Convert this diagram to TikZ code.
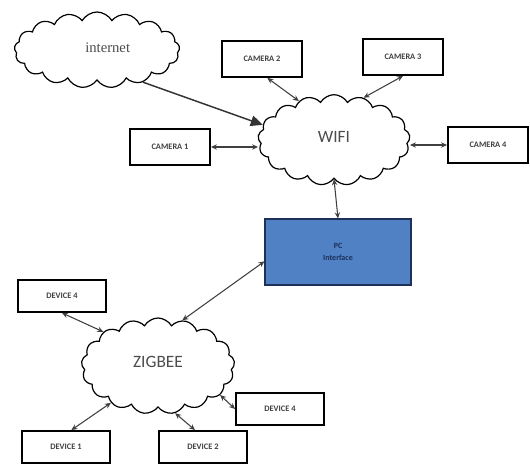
\documentclass[tikz,border=0pt]{standalone}
\usepackage{fontspec}
\setmainfont{Carlito}
\newfontfamily\inetfont{Liberation Serif}
\usetikzlibrary{shapes.symbols,arrows.meta}

\definecolor{pcblue}{RGB}{79,129,196}
\definecolor{pcnavy}{RGB}{28,48,88}

\begin{document}
\begin{tikzpicture}[x=0.75pt,y=-0.75pt,
    box/.style={draw, line width=1.4pt, minimum width=60pt, minimum height=27pt,
        inner sep=1pt, font=\fontsize{6.3}{7}\selectfont\bfseries, text=black!75},
    devbox/.style={box, minimum width=66pt, minimum height=24pt},
    net/.style={draw, cloud, cloud puffs=17, cloud puff arc=120, cloud ignores aspect,
        inner sep=0pt, line width=0.9pt, font=\fontsize{13}{15}\selectfont, text=black!70},
    link/.style={{Stealth[length=4.5pt,width=4pt]}-{Stealth[length=4.5pt,width=4pt]}, line width=0.8pt, black!75}]
    \useasboundingbox (0,0) rectangle (530,463);
    % wolken
    \node[net, minimum width=124pt, minimum height=57pt, font=\inetfont\fontsize{11}{13}\selectfont]
        (inet) at (97,50) {\hspace{16pt}\raisebox{4pt}{internet}};
    \node[net, minimum width=114pt, minimum height=68pt] (wifi) at (334,140) {\raisebox{5pt}{WIFI}};
    \node[net, minimum width=115pt, minimum height=72pt] (zigbee) at (158,366) {\raisebox{6pt}{ZIGBEE}};
    % camera's
    \node[box] (cam1) at (170,147) {CAMERA 1};
    \node[box] (cam2) at (262,59) {CAMERA 2};
    \node[box] (cam3) at (403,57) {CAMERA 3};
    \node[box] (cam4) at (488,145) {CAMERA 4};
    % pc
    \node[draw=pcnavy, fill=pcblue, line width=1.3pt, minimum width=109pt, minimum height=49pt,
        align=center, font=\fontsize{6}{9}\selectfont\bfseries, text=pcnavy]
        (pc) at (338,252) {PC\\Interface};
    % devices
    \node[devbox] (dev4a) at (62,296) {DEVICE 4};
    \node[devbox] (dev4b) at (280,409) {DEVICE 4};
    \node[devbox] (dev1) at (66,447) {DEVICE 1};
    \node[devbox] (dev2) at (203,447) {DEVICE 2};
    % verbindingen
    \draw[-{Triangle[length=9pt,width=8pt]}, line width=1.1pt, black!80] (inet.-35) -- (wifi.168);
    \draw[link] (cam1.east) -- (cam1.east -| wifi.west);
    \draw[link] ([xshift=4pt]cam2.south) -- (wifi.132);
    \draw[link] (cam3.south) -- (wifi.55);
    \draw[link] (wifi.east |- cam4.west) -- (cam4.west);
    \draw[link] (wifi.south) -- (pc.north);
    \draw[link] (zigbee.62) -- ([yshift=-7pt]pc.west);
    \draw[link] (dev4a.south) -- (zigbee.148);
    \draw[link] ([xshift=4pt]dev1.north) -- (zigbee.218);
    \draw[link] ([xshift=-6pt]dev2.north) -- (zigbee.290);
    \draw[link] (dev4b.west) -- (zigbee.335);
\end{tikzpicture}
\end{document}
